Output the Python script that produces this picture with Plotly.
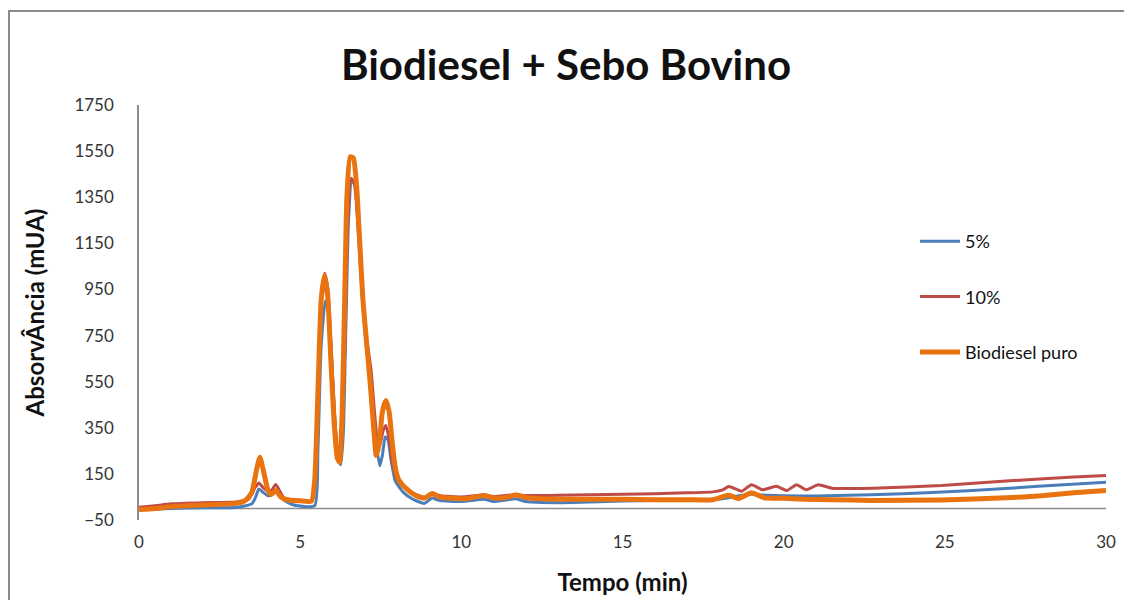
import plotly.graph_objects as go

# ---- data ----
t_5 = [0, 1, 2, 3, 3.5, 3.62, 3.72, 3.85, 4.0, 4.12, 4.24, 4.35, 4.5, 4.8, 5.45,
       5.55, 5.65, 5.78, 5.88, 5.98, 6.08, 6.18, 6.26, 6.34, 6.42, 6.5, 6.6, 6.7,
       6.8, 6.9, 7.0, 7.12, 7.22, 7.35, 7.47, 7.55, 7.64, 7.72, 7.82, 7.95, 8.2,
       8.5, 8.85, 9.1, 9.3, 10, 10.7, 11, 11.7, 12, 13, 14, 15, 16, 17, 18, 18.6,
       19.0, 19.5, 20, 21, 21.65, 23.7, 25.85, 27.9, 30]
v_5 = [-5, 0, 3, 4, 20, 50, 85, 70, 55, 60, 80, 60, 35, 15, 12,
       250, 700, 900, 860, 640, 380, 210, 190, 330, 800, 1250, 1425, 1400,
       1240, 1000, 780, 620, 470, 290, 185, 230, 310, 300, 210, 120, 70,
       40, 22, 45, 35, 30, 40, 30, 42, 30, 25, 28, 32, 35, 36, 40, 55,
       62, 57, 55, 54, 56, 64, 78, 96, 114]

t_10 = [0, 0.5, 1, 2, 3, 3.4, 3.6, 3.72, 3.85, 4.0, 4.12, 4.24, 4.35, 4.5, 4.8,
        5.35, 5.45, 5.55, 5.65, 5.76, 5.86, 5.96, 6.06, 6.16, 6.24, 6.32, 6.4,
        6.48, 6.58, 6.68, 6.78, 6.88, 6.98, 7.1, 7.2, 7.3, 7.42, 7.5, 7.58,
        7.66, 7.76, 7.86, 8.0, 8.3, 8.6, 8.9, 9.1, 9.35, 10, 10.7, 11, 11.7, 12,
        13, 14, 15, 16, 17, 17.8, 18.1, 18.3, 18.7, 19.0, 19.35, 19.77, 20.1,
        20.4, 20.7, 21.07, 21.5, 22.75, 24.9, 26.9, 29, 30]
v_10 = [5, 12, 20, 25, 28, 40, 90, 110, 90, 75, 80, 104, 80, 45, 35,
        33, 100, 450, 880, 1020, 950, 700, 420, 240, 195, 350, 800,
        1250, 1432, 1410, 1250, 1020, 820, 700, 600, 430, 270, 290, 340,
        360, 300, 200, 130, 85, 60, 48, 65, 55, 50, 58, 52, 60, 56,
        57, 60, 62, 64, 68, 72, 80, 95, 75, 103, 81, 96, 78,
        103, 81, 103, 88, 88, 100, 119, 136, 143]

t_puro = [0, 0.5, 1, 2, 3, 3.3, 3.5, 3.65, 3.75, 3.85, 4.0, 4.1, 4.25, 4.4, 4.6,
          5.0, 5.35, 5.45, 5.55, 5.65, 5.75, 5.85, 5.95, 6.05, 6.15, 6.22, 6.3,
          6.38, 6.45, 6.55, 6.65, 6.75, 6.85, 6.95, 7.08, 7.18, 7.28, 7.36, 7.45,
          7.55, 7.66, 7.76, 7.86, 7.96, 8.07, 8.3, 8.6, 8.85, 9.1, 9.3, 9.6, 10.2,
          10.7, 11.0, 11.4, 11.7, 12.0, 12.5, 13.5, 15, 16, 17, 17.8, 18.3, 18.6,
          19.0, 19.4, 20, 20.6, 21.5, 22.7, 24.9, 26.9, 28, 29, 30]
v_puro = [-5, 0, 8, 15, 22, 35, 70, 170, 222, 170, 80, 60, 78, 50, 38,
          33, 32, 120, 500, 900, 1010, 930, 650, 380, 220, 200, 400,
          900, 1350, 1525, 1520, 1400, 1150, 900, 690, 530, 350, 230, 280,
          420, 468, 420, 280, 170, 121, 85, 55, 45, 65, 50, 45, 43,
          56, 46, 48, 58, 48, 42, 40, 40, 38, 38, 38, 57, 43,
          68, 46, 44, 40, 38, 35, 37, 46, 55, 68, 78]

series_names = ["5%", "10%", "Biodiesel puro"]
series_colors = ["#4A7EBB", "#BE4B48", "#E9730F"]
series_widths = [3, 3, 5]
y_ticks = [-50, 150, 350, 550, 750, 950, 1150, 1350, 1550, 1750]
x_ticks = [0, 5, 10, 15, 20, 25, 30]

FONT = "Lato"

fig = go.Figure()
for i, (tt, vv) in enumerate([(t_5, v_5), (t_10, v_10), (t_puro, v_puro)]):
    fig.add_trace(go.Scatter(
        x=tt, y=vv, mode="lines", name=series_names[i],
        legendgroup=series_names[i],
        line=dict(color=series_colors[i], width=series_widths[i],
                  shape="spline", smoothing=0.5),
    ))

# figure is 1124x592 (page body adds an 8px margin); plot area in figure px
W, H = 1124, 592
L, R, T, B = 131, 1098, 97, 512
pw, ph = R - L, B - T

def px_x(p):
    return (p - L) / pw

def px_y(p):
    return (B - p) / ph

fig.update_layout(
    width=W, height=H,
    margin=dict(l=L, r=W - R, t=T, b=H - B, autoexpand=False),
    paper_bgcolor="white", plot_bgcolor="white",
    font=dict(family=FONT, color="#222222"),
    title=dict(text="<b>Biodiesel + Sebo Bovino</b>",
               x=(558 - 0) / W, xanchor="center", y=1 - 57 / H, yanchor="middle",
               font=dict(size=42, family=FONT, color="#111111")),
    showlegend=True,
    legend=dict(x=px_x(907), y=px_y(215), xanchor="left", yanchor="top",
                bgcolor="rgba(0,0,0,0)", tracegroupgap=29,
                font=dict(size=18, family=FONT, color="#111111"),
                itemwidth=40),
    xaxis=dict(range=[0, 30], tickvals=x_ticks, showgrid=False, zeroline=False,
               showline=False, ticks="", tickfont=dict(size=17, color="#333333"),
               ticklabelstandoff=10,
               title=dict(text="<b>Tempo (min)</b>", font=dict(size=24, color="#111111"),
                          standoff=23)),
    yaxis=dict(range=[-50, 1750], tickvals=y_ticks, showgrid=False, zeroline=False,
               showline=True, linecolor="#8C8C8C", linewidth=1.5, ticks="",
               tickfont=dict(size=17, color="#333333"), ticklabelstandoff=20,
               title=dict(text="<b>AbsorvÂncia (mUA)</b>", font=dict(size=24, color="#111111"),
                          standoff=23)),
)

# horizontal axis line at y = 0 (axis crosses at zero)
fig.add_shape(type="line", xref="x", yref="y", x0=0, x1=30, y0=0, y1=0,
              line=dict(color="#8C8C8C", width=1.5), layer="below")

# outer chart border
fig.add_shape(type="rect", xref="paper", yref="paper",
              x0=px_x(1), x1=px_x(1120), y0=px_y(600), y1=px_y(3),
              line=dict(color="#8A8A8A", width=2), fillcolor="rgba(0,0,0,0)")

fig.write_html("out.html")
